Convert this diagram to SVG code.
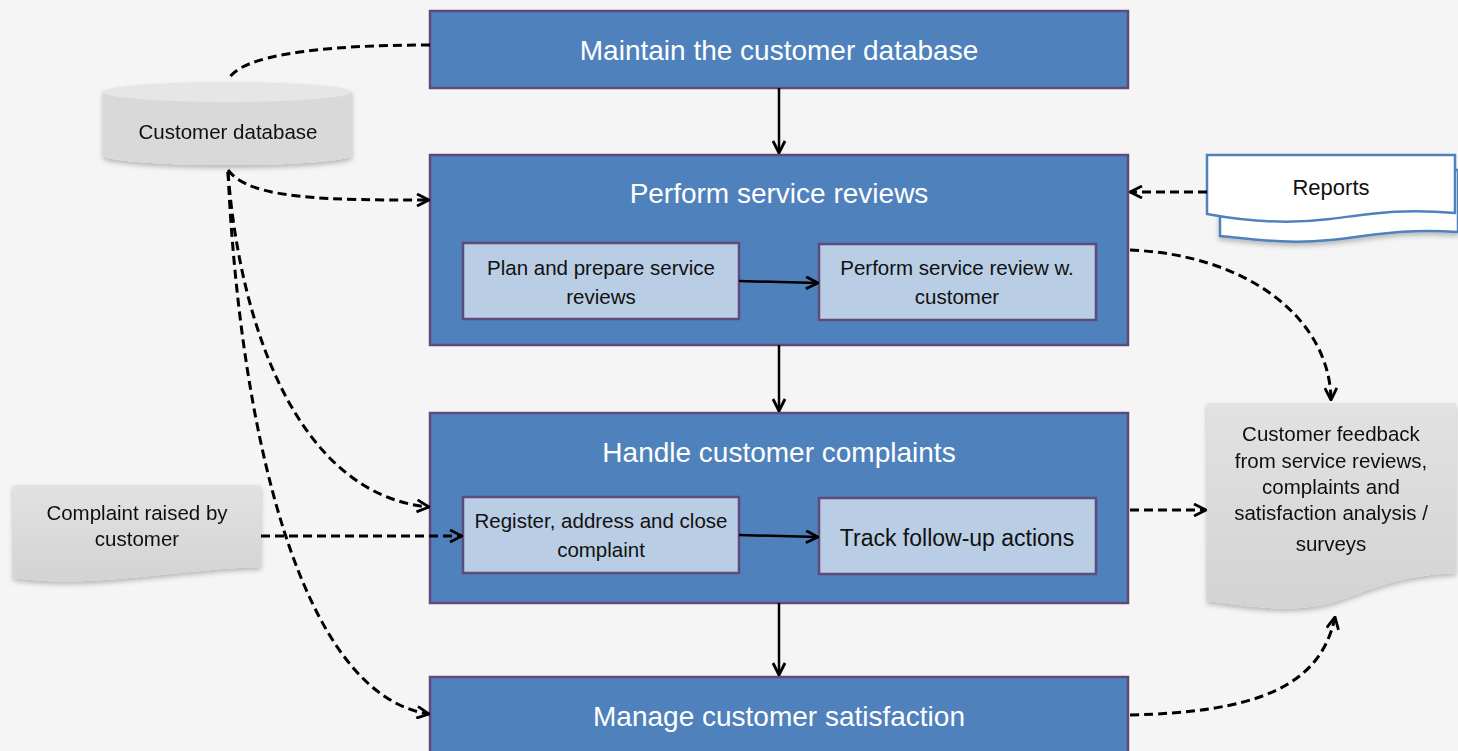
<svg xmlns="http://www.w3.org/2000/svg" width="1458" height="751" viewBox="0 0 1458 751">
<defs>
<style>
.main{fill:#4F81BD;stroke:#5F4B7B;stroke-width:2.5}
.sub{fill:#B9CDE5;stroke:#5F4B7B;stroke-width:2.5}
.t{font-family:"Liberation Sans",Arial,sans-serif;text-anchor:middle}
.tw{fill:#fff;font-size:28px}
.tb{fill:#111;font-size:20.5px}
.solid{fill:none;stroke:#000;stroke-width:2.5}
.dash{fill:none;stroke:#000;stroke-width:3;stroke-dasharray:9 5}
</style>
<marker id="ah" viewBox="0 0 14 14" refX="13" refY="7" markerWidth="14" markerHeight="14" markerUnits="userSpaceOnUse" orient="auto">
<path d="M1,1 L13,7 L1,13" fill="none" stroke="#000" stroke-width="2.8"/>
</marker>
<linearGradient id="gray" x1="0" y1="0" x2="0" y2="1">
<stop offset="0" stop-color="#E2E2E2"/>
<stop offset="1" stop-color="#D3D3D3"/>
</linearGradient>
<filter id="sh" x="-10%" y="-10%" width="120%" height="130%">
<feDropShadow dx="0" dy="3" stdDeviation="2.5" flood-color="#000" flood-opacity="0.25"/>
</filter>
</defs>
<rect width="1458" height="751" fill="#F5F5F5"/>
<g id="n_maintain">
<rect class="main" x="430" y="11" width="698" height="77"/>
<text class="t tw" x="779" y="60">Maintain the customer database</text>
</g>
<g id="n_reviews">
<rect class="main" x="430" y="155" width="698" height="190"/>
<text class="t tw" x="779" y="203">Perform service reviews</text>
</g>
<g id="n_plan">
<rect class="sub" x="463" y="243" width="276" height="76"/>
<text class="t tb" x="601" y="275">Plan and prepare service</text>
<text class="t tb" x="601" y="304">reviews</text>
</g>
<g id="n_perform">
<rect class="sub" x="819" y="244" width="277" height="76"/>
<text class="t tb" x="957" y="275">Perform service review w.</text>
<text class="t tb" x="957" y="304">customer</text>
</g>
<g id="n_complaints">
<rect class="main" x="430" y="413" width="698" height="190"/>
<text class="t tw" x="779" y="462">Handle customer complaints</text>
</g>
<g id="n_register">
<rect class="sub" x="463" y="497" width="276" height="76"/>
<text class="t tb" x="601" y="528">Register, address and close</text>
<text class="t tb" x="601" y="557">complaint</text>
</g>
<g id="n_track">
<rect class="sub" x="819" y="498" width="277" height="76"/>
<text class="t tb" x="957" y="546" style="font-size:23px">Track follow-up actions</text>
</g>
<g id="n_satisfaction">
<rect class="main" x="430" y="677" width="698" height="80"/>
<text class="t tw" x="779" y="726">Manage customer satisfaction</text>
</g>
<g id="n_db" filter="url(#sh)">
<path d="M103,92 L103,156 A125,10 0 0 0 352,156 L352,92 Z" fill="#D9D9D9"/>
<ellipse cx="227.5" cy="92" rx="124.5" ry="10" fill="#E6E6E6"/>
<text class="t tb" x="228" y="139">Customer database</text>
</g>
<g id="n_reports">
<path d="M1220,170 L1458,170 L1458,232 C1400,228 1370,236 1330,240 C1290,244 1260,240 1220,236 Z" fill="#fff" stroke="#4F81BD" stroke-width="2.5" filter="url(#sh)"/>
<path d="M1207,155 L1455,155 L1455,213 C1400,208 1370,214 1330,219 C1290,224 1250,222 1207,214 Z" fill="#fff" stroke="#4F81BD" stroke-width="2.5"/>
<text class="t tb" x="1331" y="195" style="font-size:22px">Reports</text>
</g>
<g id="n_feedback" filter="url(#sh)">
<path d="M1207,403 L1456,403 L1456,573 C1400,575 1370,590 1340,600 C1300,614 1260,608 1207,601 Z" fill="url(#gray)"/>
<text class="t tb" x="1331" y="441">Customer feedback</text>
<text class="t tb" x="1331" y="468">from service reviews,</text>
<text class="t tb" x="1331" y="494">complaints and</text>
<text class="t tb" x="1331" y="520">satisfaction analysis /</text>
<text class="t tb" x="1331" y="551">surveys</text>
</g>
<g id="n_complaint" filter="url(#sh)">
<path d="M13,485 L261,485 L261,567 C220,568 190,572 150,576 C100,581 60,584 13,578 Z" fill="url(#gray)"/>
<text class="t tb" x="137" y="520">Complaint raised by</text>
<text class="t tb" x="137" y="546">customer</text>
</g>
<g id="connectors">
<path class="dash" d="M430,45 C320,45 240,55 228,80"/>
<path class="solid" d="M779,88 L779,153" marker-end="url(#ah)"/>
<path class="dash" d="M228,170 C250,200 330,200 429,200" marker-end="url(#ah)"/>
<path class="dash" d="M228,172 C240,330 300,495 429,507" marker-end="url(#ah)"/>
<path class="dash" d="M228,172 C240,430 300,695 429,714" marker-end="url(#ah)"/>
<path class="dash" d="M1207,192 L1130,192" marker-end="url(#ah)"/>
<path class="dash" d="M1130,250 C1250,255 1330,320 1331,400" marker-end="url(#ah)"/>
<path class="solid" d="M739,281 L818,283" marker-end="url(#ah)"/>
<path class="solid" d="M779,345 L779,411" marker-end="url(#ah)"/>
<path class="dash" d="M1130,510 L1206,510" marker-end="url(#ah)"/>
<path class="dash" d="M261,536 L462,536" marker-end="url(#ah)"/>
<path class="solid" d="M739,535 L818,537" marker-end="url(#ah)"/>
<path class="solid" d="M779,603 L779,675" marker-end="url(#ah)"/>
<path class="dash" d="M1130,715 C1250,712 1320,690 1335,617" marker-end="url(#ah)"/>
</g>
</svg>
